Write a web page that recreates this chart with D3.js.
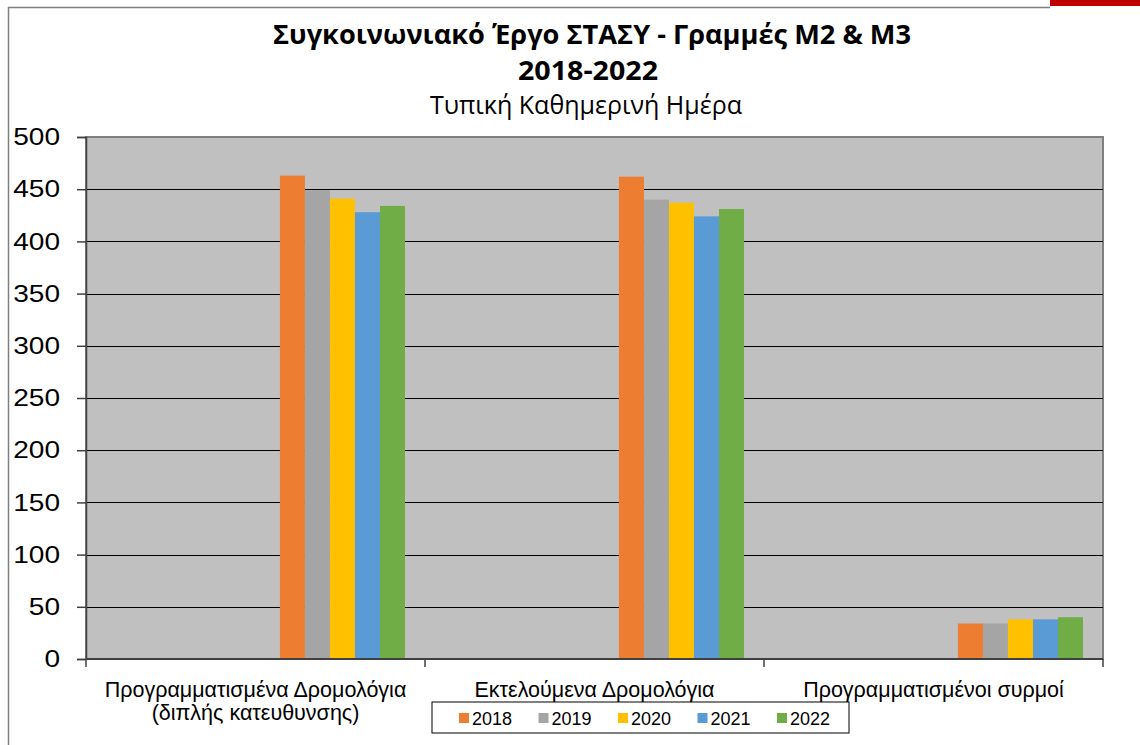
<!DOCTYPE html>
<html>
<head>
<meta charset="utf-8">
<script src="https://cdn.jsdelivr.net/npm/d3@7"></script>
<style>
  body { margin: 0; background: #fff; }
  svg text { font-family: "Liberation Sans", Arial, sans-serif; fill: #000; }
  .ttl text { font-family: "Open Sans", "Liberation Sans", sans-serif; }
</style>
</head>
<body>
<svg id="chart" width="1140" height="745"></svg>
<script>
// chart data
var categories = ["Προγραμματισμένα Δρομολόγια\n(διπλής κατευθυνσης)", "Εκτελούμενα Δρομολόγια", "Προγραμματισμένοι συρμοί"];
var years = ["2018", "2019", "2020", "2021", "2022"];
var values2018 = [463, 462, 34];
var values2019 = [449, 440, 34];
var values2020 = [441, 437, 38];
var values2021 = [428, 424, 38];
var values2022 = [434, 431, 40];
var colours = ["#ED7D31", "#A5A5A5", "#FFC000", "#5B9BD5", "#70AD47"];
var yTicks = [0, 50, 100, 150, 200, 250, 300, 350, 400, 450, 500];

var series = [values2018, values2019, values2020, values2021, values2022];

var svg = d3.select('#chart');
var plotL = 86, plotR = 1103, plotT = 137, plotB = 659;

//Outer frame of the chart object
svg.append('line').attr('x1', 8.5).attr('x2', 8.5).attr('y1', 7).attr('y2', 745)
    .attr('stroke', '#7f7f7f').attr('stroke-width', 1.5);
svg.append('line').attr('x1', 8).attr('x2', 1050).attr('y1', 7.5).attr('y2', 7.5)
    .attr('stroke', '#7f7f7f').attr('stroke-width', 1.5);
svg.append('rect').attr('x', 1050).attr('y', 0).attr('width', 90).attr('height', 6).attr('fill', '#c00000');

//Titles (stretched to the widths of the original)
var ttl = svg.append('g').attr('class', 'ttl');
ttl.append('text').attr('x', 592).attr('y', 44).attr('text-anchor', 'middle')
    .style('font-size', '26px').style('font-weight', 'bold')
    .attr('textLength', 638).attr('lengthAdjust', 'spacingAndGlyphs')
    .text('Συγκοινωνιακό Έργο ΣΤΑΣΥ - Γραμμές Μ2 & Μ3');
ttl.append('text').attr('x', 588).attr('y', 80).attr('text-anchor', 'middle')
    .style('font-size', '27px').style('font-weight', 'bold')
    .attr('textLength', 140).attr('lengthAdjust', 'spacingAndGlyphs')
    .text('2018-2022');
ttl.append('text').attr('x', 586).attr('y', 114).attr('text-anchor', 'middle')
    .style('font-size', '25px')
    .attr('textLength', 312).attr('lengthAdjust', 'spacingAndGlyphs')
    .text('Τυπική Καθημερινή Ημέρα');

var x0 = d3.scaleBand().domain(categories).range([plotL, plotR]).padding(0);
var bw = x0.bandwidth();
//bars sit in the right part of each band (as in the source sheet)
var x1 = d3.scaleBand().domain(years).range([bw * 0.572, bw * 0.941]).padding(0);
var y = d3.scaleLinear().domain([0, 500]).range([plotB, plotT]);

//Plot area
svg.append('rect').attr('x', plotL).attr('y', plotT).attr('width', plotR - plotL).attr('height', plotB - plotT)
    .attr('fill', '#c0c0c0').attr('stroke', '#808080').attr('stroke-width', 2);

//Gridlines
svg.append('g').selectAll('line').data(yTicks.filter(function(d) { return d > 0 && d < 500; }))
    .enter().append('line')
    .attr('x1', plotL).attr('x2', plotR)
    .attr('y1', function(d) { return Math.round(y(d)) + 0.5; })
    .attr('y2', function(d) { return Math.round(y(d)) + 0.5; })
    .attr('stroke', '#000').attr('stroke-width', 1.2);

//Bars
var groups = svg.append('g').selectAll('g').data(categories).enter().append('g')
    .attr('transform', function(d) { return 'translate(' + x0(d) + ',0)'; });
groups.selectAll('rect')
    .data(function(d, i) { return years.map(function(yr, j) { return {year: yr, value: series[j][i], idx: j}; }); })
    .enter().append('rect')
    .attr('x', function(d) { return x1(d.year); })
    .attr('width', x1.bandwidth())
    .attr('y', function(d) { return y(d.value); })
    .attr('height', function(d) { return plotB - y(d.value); })
    .attr('fill', function(d) { return colours[d.idx]; });

//Y axis
var yAxis = svg.append('g').attr('transform', 'translate(' + plotL + ',0)')
    .call(d3.axisLeft(y).tickValues(yTicks).tickSize(9).tickPadding(17));
yAxis.selectAll('text').style('font-size', '24px')
    .attr('textLength', function(d) { return String(d).length * 15.6; })
    .attr('lengthAdjust', 'spacingAndGlyphs');
yAxis.selectAll('line, path').attr('stroke', '#404040').attr('stroke-width', 1.5);

//X axis with ticks between categories
var xAxis = svg.append('g');
xAxis.append('line').attr('x1', plotL).attr('x2', plotR).attr('y1', plotB).attr('y2', plotB)
    .attr('stroke', '#404040').attr('stroke-width', 2);
xAxis.selectAll('.tk').data(categories.concat(['end'])).enter().append('line')
    .attr('x1', function(d, i) { return plotL + i * bw; })
    .attr('x2', function(d, i) { return plotL + i * bw; })
    .attr('y1', plotB).attr('y2', plotB + 8)
    .attr('stroke', '#404040').attr('stroke-width', 1.5);
var labels = xAxis.selectAll('.lbl').data(categories).enter().append('text')
    .attr('text-anchor', 'middle')
    .attr('transform', function(d) { return 'translate(' + (x0(d) + bw / 2) + ',' + 697 + ')'; })
    .style('font-size', '21.5px');
labels.selectAll('tspan').data(function(d) { return d.split('\n'); }).enter().append('tspan')
    .attr('x', 0).attr('dy', function(d, i) { return i ? 23 : 0; })
    .text(function(d) { return d; });

//Legend
var lg = svg.append('g').attr('transform', 'translate(432,702)');
lg.append('rect').attr('width', 417).attr('height', 31).attr('fill', '#fff').attr('stroke', '#000');
var items = lg.selectAll('.it').data(years).enter().append('g')
    .attr('transform', function(d, i) { return 'translate(' + (27 + i * 79.5) + ',0)'; });
items.append('rect').attr('y', 11).attr('width', 10).attr('height', 10)
    .attr('fill', function(d, i) { return colours[i]; });
items.append('text').attr('x', 13).attr('y', 23).style('font-size', '18px').text(function(d) { return d; });
</script>
</body>
</html>
